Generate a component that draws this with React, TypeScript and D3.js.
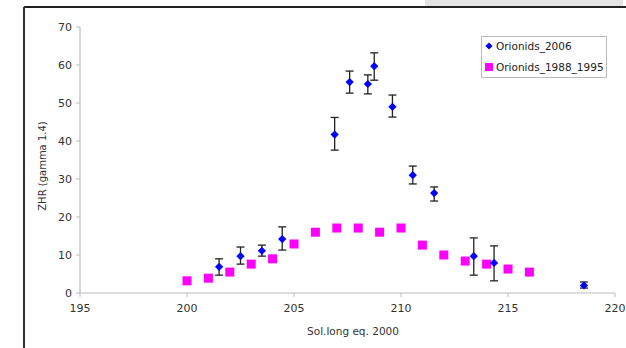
import React from 'react'
import * as d3 from 'd3'

// Orionids 2006 observations: solar longitude, ZHR, error bar low/high
const obsLong = [201.5, 202.5, 203.5, 204.45, 206.9, 207.6, 208.45, 208.75, 209.6, 210.55, 211.55, 213.4, 214.35, 218.55]
const obsZhr = [6.9, 9.7, 11.1, 14.2, 41.7, 55.5, 55, 59.7, 49, 31, 26.3, 9.7, 7.9, 2]
const obsLow = [4.7, 7.6, 9.7, 11.3, 37.6, 52.6, 52.4, 56, 46.3, 28.7, 24.2, 4.7, 3.2, 1.3]
const obsHigh = [9, 12.1, 12.6, 17.4, 46.2, 58.4, 57.4, 63.2, 52.1, 33.4, 27.9, 14.5, 12.4, 2.9]

// Orionids 1988-1995 average
const avgLong = [200, 201, 202, 203, 204, 205, 206, 207, 208, 209, 210, 211, 212, 213, 214, 215, 216]
const avgZhr = [3.2, 3.9, 5.5, 7.6, 9, 12.9, 16, 17.1, 17.1, 16, 17.1, 12.6, 10, 8.4, 7.6, 6.3, 5.5]

const xTicks = [195, 200, 205, 210, 215, 220]
const yTicks = [0, 10, 20, 30, 40, 50, 60, 70]

const seriesNames = ['Orionids_2006', 'Orionids_1988_1995']

const W = 626
const H = 348
const font = '"DejaVu Sans", "Open Sans", sans-serif'

const App = () => {
  const x = d3.scaleLinear().domain([195, 220]).range([80, 615])
  const y = d3.scaleLinear().domain([0, 70]).range([293, 27])
  // rotated square, like the spreadsheet diamond marker
  const diamond = d3.symbol().type(d3.symbolSquare).size(34)

  return (
    <svg width={W} height={H} style={{ position: 'absolute', left: 0, top: 0, background: '#fff' }}>
      <rect x={425} y={0} width={198} height={6} fill='#e4e4e4' />
      <line x1={24} x2={W} y1={7} y2={7} stroke='#222' strokeWidth={2} />
      <line x1={24} x2={24} y1={7} y2={H} stroke='#333' strokeWidth={2} />

      {/* axes */}
      <line x1={x(195)} x2={x(220)} y1={y(0)} y2={y(0)} stroke='#bbb' strokeWidth={1.2} />
      <line x1={x(195)} x2={x(195)} y1={y(0)} y2={y(70)} stroke='#bbb' strokeWidth={1.2} />
      {yTicks.map((t) => (
        <g key={'y' + t}>
          <line x1={x(195) - 4} x2={x(195)} y1={y(t)} y2={y(t)} stroke='#bbb' />
          <text x={x(195) - 8} y={y(t)} dy='0.35em' textAnchor='end' fontSize={11} fill='#333' fontFamily={font}>
            {t}
          </text>
        </g>
      ))}
      {xTicks.map((t) => (
        <g key={'x' + t}>
          <line x1={x(t)} x2={x(t)} y1={y(0)} y2={y(0) + 4} stroke='#bbb' />
          <text x={x(t)} y={y(0) + 19} textAnchor='middle' fontSize={11} fill='#333' fontFamily={font}>
            {t}
          </text>
        </g>
      ))}
      <text x={353} y={335} textAnchor='middle' fontSize={10.5} fill='#333' fontFamily={font}>
        Sol.long eq. 2000
      </text>
      <text
        transform={`translate(46,166) rotate(-90)`}
        textAnchor='middle'
        fontSize={10}
        fill='#333'
        fontFamily={font}
      >
        ZHR (gamma 1.4)
      </text>

      {/* 1988-1995 squares */}
      {avgLong.map((l, i) => (
        <rect key={'s' + i} x={x(l) - 4.5} y={y(avgZhr[i]) - 4.5} width={9} height={9} fill='#ff00ff' />
      ))}

      {/* 2006 error bars and diamonds */}
      {obsLong.map((l, i) => (
        <g key={'e' + i} stroke='#222' strokeWidth={1.3}>
          <line x1={x(l)} x2={x(l)} y1={y(obsLow[i])} y2={y(obsHigh[i])} />
          <line x1={x(l) - 4} x2={x(l) + 4} y1={y(obsLow[i])} y2={y(obsLow[i])} />
          <line x1={x(l) - 4} x2={x(l) + 4} y1={y(obsHigh[i])} y2={y(obsHigh[i])} />
        </g>
      ))}
      {obsLong.map((l, i) => (
        <path
          key={'d' + i}
          d={diamond() as string}
          transform={`translate(${x(l)},${y(obsZhr[i])}) rotate(45)`}
          fill='#0000ff'
        />
      ))}

      {/* legend */}
      <rect x={481.5} y={36.5} width={125} height={41} fill='#fff' stroke='#bbb' />
      <path d={d3.symbol().type(d3.symbolSquare).size(26)() as string} transform='translate(489,46) rotate(45)' fill='#0000ff' />
      <rect x={485} y={63} width={8} height={8} fill='#ff00ff' />
      <text x={496} y={46} dy='0.35em' fontSize={10.5} fill='#222' fontFamily={font}>
        {seriesNames[0]}
      </text>
      <text x={496} y={67} dy='0.35em' fontSize={10.5} fill='#222' fontFamily={font}>
        {seriesNames[1]}
      </text>
    </svg>
  )
}

export default App
